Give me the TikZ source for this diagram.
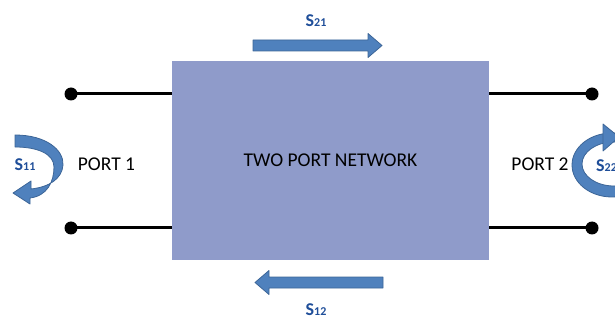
\documentclass[tikz,border=0pt]{standalone}
\usepackage{fontspec}
\setmainfont{Carlito}
\usetikzlibrary{positioning}
\definecolor{netfill}{HTML}{8F9BCA}
\definecolor{arrowfill}{HTML}{4F81BD}
\definecolor{arrowedge}{HTML}{3C6597}
\definecolor{sblue}{HTML}{1F4E99}
\newcommand{\sparam}[1]{{\fontsize{18}{18}\selectfont S}{\fontsize{12}{12}\selectfont #1}}

\begin{document}
\begin{tikzpicture}[x=1pt,y=-1pt,font=\fontsize{19.5}{19.5}\selectfont,
	terminal/.style={circle,fill=black,inner sep=0pt,minimum size=13pt},
	wire/.style={line width=3pt},
	network/.style={fill=netfill,minimum width=317pt,minimum height=199pt,inner sep=0pt},
	bentarrow/.style={fill=arrowfill,draw=arrowedge,line width=0.8pt,line join=round},
	slabel/.style={text=sblue,font=\bfseries,inner sep=1pt}]
	\useasboundingbox (0,0) rectangle (615,320);

	% network block and its terminals
	\node[network]		(net)	at (330.5,160.5)	{TWO PORT NETWORK};
	\node[terminal]		(p1a)	at (71,94)			{};
	\node[terminal]		(p1b)	at (71,228)			{};
	\node[terminal]		(p2a)	at (592,94)			{};
	\node[terminal]		(p2b)	at (592,228)		{};
	\node				(port1)	at (106.5,164)		{PORT 1};
	\node				(port2)	at (540,164)		{PORT 2};

	\draw[wire]	(p1a.center) -- (p1a -| net.west);
	\draw[wire]	(p1b.center) -- (p1b -| net.west);
	\draw[wire]	(p2a.center) -- (p2a -| net.east);
	\draw[wire]	(p2b.center) -- (p2b -| net.east);

	% transmission
	\coordinate	(a21)	at (253,45.5);
	\coordinate	(a12)	at (383,282.5);
	\filldraw[bentarrow] (a21) ++(0,-5.5) -- ++(115,0) -- ++(0,-6.5) -- ++(14,12)
		-- ++(-14,12) -- ++(0,-6.5) -- ++(-115,0) -- cycle;
	\filldraw[bentarrow] (a12) ++(0,-5.5) -- ++(-114,0) -- ++(0,-6.5) -- ++(-14,12)
		-- ++(14,12) -- ++(0,-6.5) -- ++(114,0) -- cycle;
	\node[slabel]	(s21)	at (316,21)		{\sparam{21}};
	\node[slabel]	(s12)	at (316,310)	{\sparam{12}};

	% reflection at port 1
	\filldraw[bentarrow] (15,135) .. controls (46,135) and (64,150) .. (63,165)
		.. controls (62,179) and (49,187) .. (31,189) -- (31,181) -- (13,193) -- (30,204) -- (30,198)
		.. controls (47,196) and (54,182) .. (54,167)
		.. controls (54,154) and (38,147) .. (15,147) -- cycle;
	\node[slabel]	(s11)	at (25,165)		{\sparam{11}};

	% reflection at port 2
	\begin{scope}
		\clip (0,0) rectangle (615,320);
		\filldraw[bentarrow,even odd rule] (612,165) ellipse [x radius=40,y radius=32]
			(614,164) ellipse [x radius=32,y radius=22];
		\filldraw[bentarrow] (603,124) -- (619,137) -- (603,151) -- cycle;
		\node[slabel,anchor=west]	(s22)	at (595,166)	{\sparam{22}};
	\end{scope}
\end{tikzpicture}
\end{document}
